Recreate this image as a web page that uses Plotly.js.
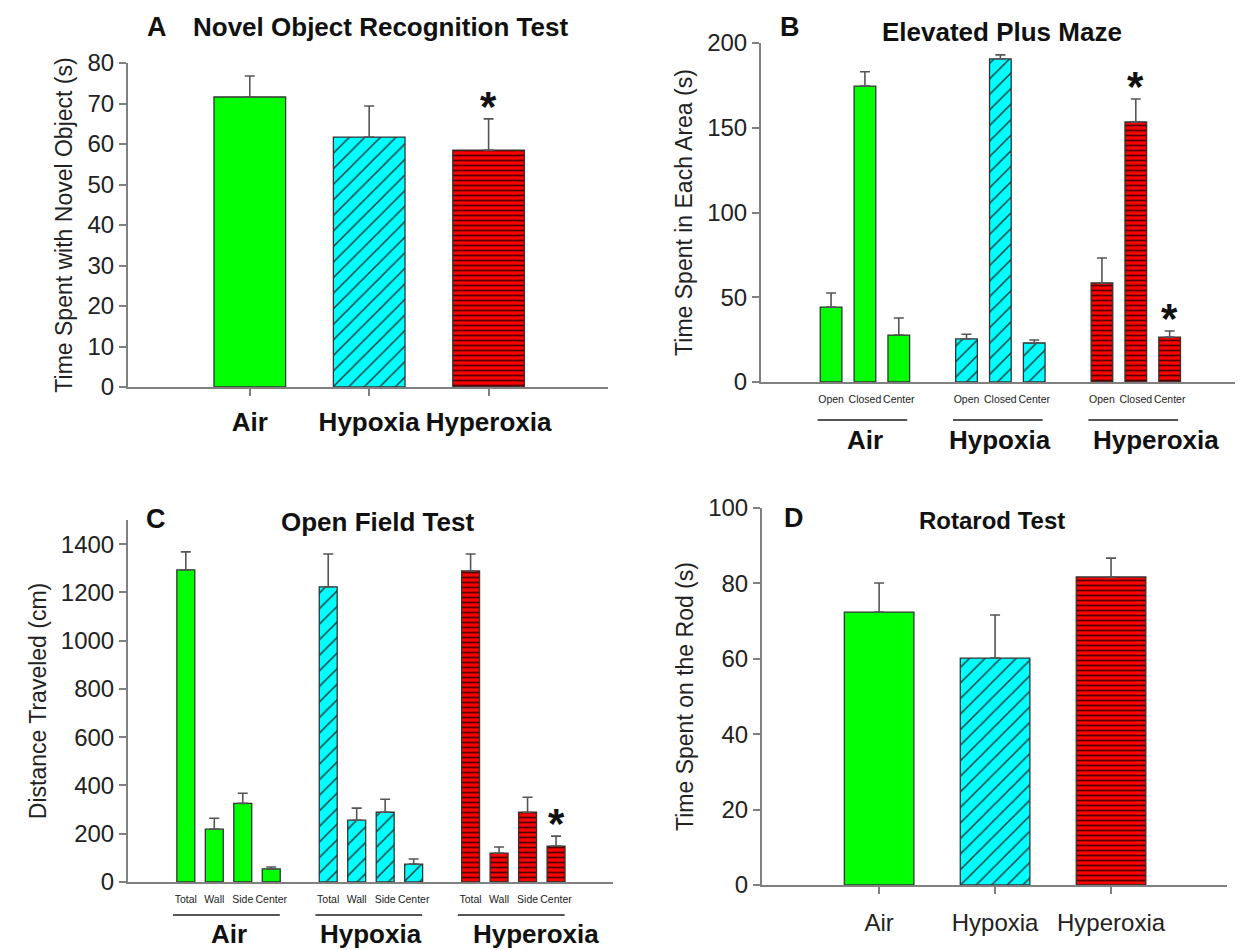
<!DOCTYPE html>
<html>
<head>
<meta charset="utf-8">
<script src="https://cdn.plot.ly/plotly-3.0.1.min.js"></script>
<style>html,body{margin:0;padding:0;background:#fff;}#chart{width:1243px;height:950px;}</style>
</head>
<body>
<div id="chart"></div>
<script>
// ---------- data ----------
const groups = ['Air', 'Hypoxia', 'Hyperoxia'];

// A: Novel Object Recognition Test
const norMean = [71.6, 61.7, 58.5];
const norErr  = [5.2, 7.7, 7.7];
const norSig  = [false, false, true];

// B: Elevated Plus Maze
const epmAreas = ['Open', 'Closed', 'Center'];
const epmAir = [44.2, 174.6, 27.7];
const epmAirErr = [8.3, 8.4, 10.1];
const epmHypoxia = [25.4, 190.6, 23.0];
const epmHypoxiaErr = [2.8, 2.4, 1.8];
const epmHyperoxia = [58.4, 153.4, 26.5];
const epmHyperoxiaErr = [14.8, 13.6, 3.6];
const epmHyperoxiaSig = [false, true, true];

// C: Open Field Test
const ofAreas = ['Total', 'Wall', 'Side', 'Center'];
const ofAir = [1293, 219, 326, 54];
const ofAirErr = [75, 45, 42, 8];
const ofHypoxia = [1223, 256, 289, 74];
const ofHypoxiaErr = [136, 50, 54, 21];
const ofHyperoxia = [1289, 120, 289, 149];
const ofHyperoxiaErr = [70, 25, 62, 41];
const ofHyperoxiaSig = [false, false, false, true];

// D: Rotarod Test
const rrMean = [72.4, 60.2, 81.7];
const rrErr  = [7.7, 11.4, 5.0];

// ---------- styles ----------
const FONT = 'Liberation Sans, Arial, sans-serif';
const styles = [
  {color: '#00ff00', pattern: {shape: ''}},
  {color: '#00ffff', pattern: {shape: '/', bgcolor: '#00ffff', fgcolor: '#1c3c3c', size: 11, solidity: 0.14}},
  {color: '#ff0000', pattern: {shape: '-', bgcolor: '#ff0000', fgcolor: '#550000', size: 5, solidity: 0.35}}
];

function bar(x, y, err, gi, xa, ya, width) {
  return {
    type: 'bar', x: x, y: y, xaxis: xa, yaxis: ya, width: width,
    marker: {color: styles[gi].color, pattern: styles[gi].pattern, line: {color: '#333333', width: 1.3}},
    error_y: {type: 'data', array: err, arrayminus: err.map(() => 0), symmetric: false,
              color: '#555555', thickness: 1.6, width: 5},
    showlegend: false, hoverinfo: 'skip'
  };
}

const traces = [];
const annotations = [];
const shapes = [];

function star(xa, ya, x, y) {
  annotations.push({xref: xa, yref: ya, x: x, y: y, text: '*', showarrow: false,
    yanchor: 'bottom', yshift: -13, font: {family: FONT, size: 42, color: '#111', weight: 'bold'}});
}

// ---- Panel A ----
const posA = groups.map((g, i) => i + 1);
groups.forEach((g, i) => {
  traces.push(bar([posA[i]], [norMean[i]], [norErr[i]], i, 'x', 'y', 0.6));
  if (norSig[i]) star('x', 'y', posA[i], norMean[i] + norErr[i]);
});

// ---- Panel B ----
const epmSets = [[epmAir, epmAirErr], [epmHypoxia, epmHypoxiaErr], [epmHyperoxia, epmHyperoxiaErr]];
const posB = [], labB = [];
epmSets.forEach((s, gi) => {
  const xs = epmAreas.map((a, i) => gi * (epmAreas.length + 1) + i);
  xs.forEach((x, i) => { posB.push(x); labB.push(epmAreas[i]); });
  traces.push(bar(xs, s[0], s[1], gi, 'x2', 'y2', 0.64));
  if (gi === 2) epmHyperoxiaSig.forEach((sg, i) => { if (sg) star('x2', 'y2', xs[i], s[0][i] + s[1][i]); });
  shapes.push({type: 'line', xref: 'x2', yref: 'paper', x0: xs[0] - 0.4, x1: xs[xs.length - 1] + 0.25,
    y0: 1 - 420 / 950, y1: 1 - 420 / 950, line: {color: '#555', width: 2}});
  annotations.push({xref: 'x2', yref: 'paper', x: (xs[0] + xs[xs.length - 1]) / 2 + (gi === 2 ? 0.6 : 0), y: 1 - 440 / 950,
    text: groups[gi], showarrow: false, yanchor: 'middle',
    font: {family: FONT, size: 26, color: '#111', weight: 'bold'}});
});

// ---- Panel C ----
const ofSets = [[ofAir, ofAirErr], [ofHypoxia, ofHypoxiaErr], [ofHyperoxia, ofHyperoxiaErr]];
const posC = [], labC = [];
ofSets.forEach((s, gi) => {
  const xs = ofAreas.map((a, i) => gi * (ofAreas.length + 1) + i);
  xs.forEach((x, i) => { posC.push(x); labC.push(ofAreas[i]); });
  traces.push(bar(xs, s[0], s[1], gi, 'x3', 'y3', 0.63));
  if (gi === 2) ofHyperoxiaSig.forEach((sg, i) => { if (sg) star('x3', 'y3', xs[i], s[0][i] + s[1][i]); });
  shapes.push({type: 'line', xref: 'x3', yref: 'paper', x0: xs[0] - 0.45, x1: xs[xs.length - 1] + 0.3,
    y0: 1 - 915 / 950, y1: 1 - 915 / 950, line: {color: '#555', width: 2}});
  annotations.push({xref: 'x3', yref: 'paper', x: (xs[0] + xs[xs.length - 1]) / 2 + (gi === 2 ? 0.8 : 0), y: 1 - 934 / 950,
    text: groups[gi], showarrow: false, yanchor: 'middle',
    font: {family: FONT, size: 26, color: '#111', weight: 'bold'}});
});

// ---- Panel D ----
const posD = groups.map((g, i) => i + 1);
groups.forEach((g, i) => {
  traces.push(bar([posD[i]], [rrMean[i]], [rrErr[i]], i, 'x4', 'y4', 0.6));
});

// ---- titles ----
function title(x, y, text, size) {
  annotations.push({xref: 'paper', yref: 'paper', x: x / 1243, y: 1 - y / 950, text: text, showarrow: false,
    xanchor: 'center', yanchor: 'middle', font: {family: FONT, size: size, color: '#111', weight: 'bold'}});
}
title(157, 27, 'A', 27); title(381, 27, 'Novel Object Recognition Test', 26);
title(790, 27, 'B', 27); title(1002, 32, 'Elevated Plus Maze', 26);
title(156, 519, 'C', 27); title(378, 522, 'Open Field Test', 26);
title(794, 518, 'D', 27); title(992, 520, 'Rotarod Test', 24);

// ---------- layout ----------
const base = {
  showline: true, linecolor: '#808080', linewidth: 2, showgrid: false, zeroline: false,
  ticks: 'outside', tickcolor: '#808080', tickwidth: 2, ticklen: 7,
  tickfont: {family: FONT, size: 24, color: '#222'}
};
function ax(extra) { return Object.assign({}, base, extra); }

const layout = {
  width: 1243, height: 950, margin: {l: 0, r: 0, t: 0, b: 0},
  paper_bgcolor: '#fff', plot_bgcolor: '#fff', barmode: 'overlay',
  font: {family: FONT, color: '#222'},
  xaxis: ax({domain: [128 / 1243, 608 / 1243], anchor: 'y', range: [-0.02, 4.0],
    tickmode: 'array', tickvals: posA, ticktext: groups, tickangle: 0, ticklabelstandoff: 4,
    tickfont: {family: FONT, size: 26, color: '#111', weight: 'bold'}}),
  yaxis: ax({domain: [1 - 387 / 950, 1 - 63 / 950], anchor: 'x', range: [0, 80], dtick: 10,
    title: {text: 'Time Spent with Novel Object (s)', font: {family: FONT, size: 23, color: '#222'}, standoff: 8}}),
  xaxis2: ax({domain: [761 / 1243, 1235 / 1243], anchor: 'y2', range: [-2.07, 11.93],
    tickmode: 'array', tickvals: posB, ticktext: labB, tickangle: 0, ticks: '', ticklabelstandoff: 6,
    tickfont: {family: FONT, size: 10.5, color: '#222'}}),
  yaxis2: ax({domain: [1 - 382 / 950, 1 - 43 / 950], anchor: 'x2', range: [0, 200], dtick: 50,
    title: {text: 'Time Spent in Each Area (s)', font: {family: FONT, size: 23, color: '#222'}, standoff: 8}}),
  xaxis3: ax({domain: [128 / 1243, 613 / 1243], anchor: 'y3', range: [-2.03, 15],
    tickmode: 'array', tickvals: posC, ticktext: labC, tickangle: 0, ticks: '', ticklabelstandoff: 6,
    tickfont: {family: FONT, size: 10.5, color: '#222'}}),
  yaxis3: ax({domain: [1 - 882 / 950, 1 - 520 / 950], anchor: 'x3', range: [0, 1500], dtick: 200,
    title: {text: 'Distance Traveled (cm)', font: {family: FONT, size: 23, color: '#222'}, standoff: 8}}),
  xaxis4: ax({domain: [762 / 1243, 1227 / 1243], anchor: 'y4', range: [-0.01, 4.0],
    tickmode: 'array', tickvals: posD, ticktext: groups, tickangle: 0, ticklabelstandoff: 8,
    tickfont: {family: FONT, size: 24, color: '#222'}}),
  yaxis4: ax({domain: [1 - 885 / 950, 1 - 508 / 950], anchor: 'x4', range: [0, 100], dtick: 20,
    title: {text: 'Time Spent on the Rod (s)', font: {family: FONT, size: 23, color: '#222'}, standoff: 8}}),
  annotations: annotations,
  shapes: shapes
};

Plotly.newPlot('chart', traces, layout, {staticPlot: true, displayModeBar: false});
</script>
</body>
</html>
